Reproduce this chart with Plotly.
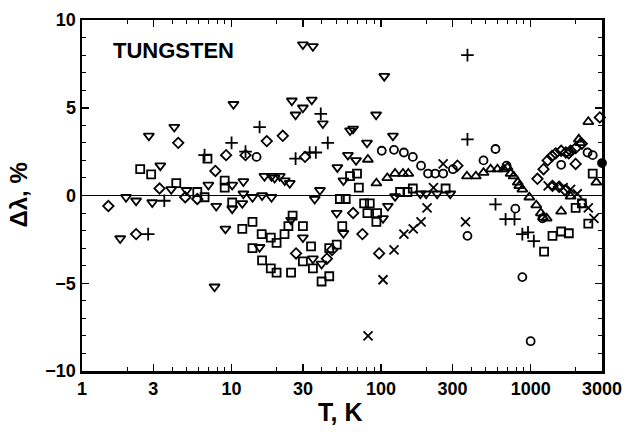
import math
import plotly.graph_objects as go

# ---- data (T in K, deviation in %) ----
sq_T = [2.45, 2.9, 4.27, 5.9, 6.6, 6.9, 9.0, 9.0, 10.1, 11.8, 13.8, 13.8, 15.9, 16, 18.3, 18.3, 20, 20,
        22.6, 24, 25.6, 25, 30, 30, 34, 35, 40, 45, 45, 50.5, 55, 53, 58, 62, 69, 71, 77, 84, 81, 94, 93,
        134, 150, 163, 270, 1230, 1400, 1600, 1800, 2000, 2200, 2430, 2600]
sq_d = [1.5, 1.2, 0.7, 0.2, -0.1, 2.1, 0.85, 0.45, -0.4, -1.9, -1.5, -3.0, -2.2, -3.7, -2.4, -4.15, -4.4, -2.7,
        -2.2, -1.75, -1.15, -4.4, -1.75, -3.75, -2.9, -4.15, -4.9, -4.6, -3.0, -2.8, -1.75, -0.2, -0.2, 1.1, 1.25, 0.45,
        -0.45, -0.45, -1.0, -1.0, -1.5, 0.2, 0.2, 0.4, 0.4, -3.2, -2.3, -2.05, -2.15, -0.7, -0.45, -1.6, 1.25]

dn_T = [1.97, 2.3, 1.8, 2.95, 2.8, 3.34, 3.95, 4.14, 5.0, 7.0, 7.7, 7.9, 9.1, 10.1, 10.1, 10.3, 11.8, 12, 12,
        13.8, 15.4, 16, 16.6, 18.5, 19.4, 18.5, 21, 22.7, 24.5, 25, 25.3, 26.8, 30, 30, 30, 34.4, 35, 35, 36,
        39, 40, 40.8, 50.5, 51, 56, 56, 60, 62, 65, 68, 80.5, 92.6, 103, 105, 111, 120, 124, 183, 200, 237, 290]
dn_d = [-0.1, -0.3, -2.45, -0.4, 3.4, 1.7, 0.35, 3.9, 0.3, 0.6, -5.2, -0.6, -1.9, 0.6, -0.75, 5.2, -0.45, 0.8, 0.1,
        -0.1, -2.95, 0.0, 1.1, -0.1, 1.0, 1.1, 1.1, 0.85, 0.7, -1.4, 5.4, 4.6, 5.0, 8.6, -2.4, 5.45, 8.5, -3.6, -0.2,
        0.3, -3.9, 4.1, -1.0, 1.6, 0.85, -2.15, 2.3, 3.7, 3.8, 2.0, 3.0, 4.6, -1.3, 6.8, -0.6, 3.4, -0.05, 0.1, 0.1, 0.1, 0.1]

ci_T = [14.7, 101, 122, 142, 163, 185, 206, 230, 260, 302, 378, 484, 582, 690, 790, 880, 1000, 1200,
        1600, 2200, 2400, 2600]
ci_d = [2.2, 2.55, 2.6, 2.45, 2.2, 1.7, 1.25, 1.25, 1.25, 1.5, -2.3, 2.0, 2.65, 1.7, -0.75, -4.65, -8.3, -1.3,
        1.75, -0.45, 2.45, 2.3]

# filled circle sitting on the right axis
fc_T = [3000]
fc_d = [1.85]

up_T = [81.6, 93, 110, 124, 140, 152, 375, 430, 484, 540, 600, 660, 700, 735, 770, 820, 840, 880, 980,
        1090, 1170, 1210, 1280, 1600, 1850, 2100, 2150, 2430, 2750]
up_d = [2.05, 0.7, 1.0, 1.25, 1.25, 1.25, 1.1, 1.1, 1.3, 1.5, 1.5, 1.5, 1.6, 1.25, 1.1, 0.75, 0.55, 0.35, -0.1,
        -0.55, -1.0, -1.25, -1.3, -0.9, -0.05, 3.2, 3.0, 4.2, 0.75]

di_T = [1.5, 2.3, 3.3, 4.4, 4.9, 5.9, 7.8, 9.2, 12.4, 17.2, 22, 27, 31, 43.4, 47, 65, 75, 97, 324,
        1110, 1220, 1300, 1390, 1470, 1600, 1720, 1800, 1850, 2000, 2000, 2200, 2900, 1400, 1550, 1700]
di_d = [-0.6, -2.2, 0.4, 3.0, -0.1, -0.2, 1.4, 2.3, 2.3, 3.1, 3.4, -3.3, 2.2, -3.6, -3.1, -1.0, -2.2, -3.3, 1.7,
        0.95, 1.5, 2.0, 2.25, 2.4, 2.55, 2.45, 2.4, 2.55, 2.7, 1.8, 2.95, 4.45, 0.55, 0.5, 0.3]

pl_T = [2.77, 3.55, 6.6, 10, 12.4, 15.4, 26.8, 33.3, 36.6, 39.5, 44, 378, 378, 582, 680, 780, 880, 960, 1050]
pl_d = [-2.2, -0.3, 2.3, 3.0, 2.5, 3.9, 2.1, 2.45, 2.45, 4.65, 3.0, 8.0, 3.2, -0.5, -1.35, -1.35, -2.2, -2.1, -2.6]

xx_T = [81.8, 103, 122, 142, 164, 185, 203, 224, 260, 367, 1310, 1470, 1650, 1850, 2050, 2430, 2650]
xx_d = [-8.0, -4.8, -3.1, -2.2, -1.9, -1.5, -0.7, 0.45, 1.8, -1.5, 0.55, 0.55, 0.45, 0.35, 0.1, -0.7, -1.3]

x_tickvals = [1, 3, 10, 30, 100, 300, 1000, 3000]
x_ticktext = ["1", "3", "10", "30", "100", "300", "1000", "3000"]
x_minor = [2, 4, 5, 6, 7, 8, 9, 20, 40, 50, 60, 70, 80, 90, 200, 400, 500, 600, 700, 800, 900, 2000]
y_tickvals = [-10, -5, 0, 5, 10]
y_ticktext = ["\u221210", "\u22125", "0", "5", "10"]

FONT = "Liberation Sans"

fig = go.Figure()
series = [
    (sq_T, sq_d, "square-open", 8),
    (dn_T, dn_d, "triangle-down-open", 9),
    (ci_T, ci_d, "circle-open", 8),
    (fc_T, fc_d, "circle", 8),
    (up_T, up_d, "triangle-up-open", 9),
    (di_T, di_d, "diamond-open", 8),
    (pl_T, pl_d, "cross-thin-open", 9),
    (xx_T, xx_d, "x-thin-open", 9),
]
for T, d, sym, sz in series:
    fig.add_trace(go.Scatter(
        x=T, y=d, mode="markers", showlegend=False, cliponaxis=False,
        hoverinfo="skip",
        marker=dict(symbol=sym, size=sz, color="black",
                    line=dict(color="black", width=1.8)),
    ))

axis_common = dict(
    showgrid=False, showline=True, linecolor="black", linewidth=2.5,
    mirror="ticks", ticks="inside", tickcolor="black", tickwidth=1.5, ticklen=7,
    automargin=False,
    tickfont=dict(family=FONT, size=18, color="black", weight="bold"),
)

fig.update_layout(
    width=629, height=432,
    margin=dict(l=82, r=27, t=20, b=61, autoexpand=False),
    paper_bgcolor="white", plot_bgcolor="white",
    xaxis=dict(type="log", range=[0, math.log10(3000)],
               tickmode="array", tickvals=x_tickvals, ticktext=x_ticktext,
               minor=dict(tickmode="array", tickvals=x_minor, ticks="inside",
                          ticklen=4, tickcolor="black", tickwidth=1),
               zeroline=False, **axis_common),
    yaxis=dict(range=[-10, 10], tickmode="array", tickvals=y_tickvals,
               ticktext=y_ticktext,
               minor=dict(dtick=1, ticks="inside", ticklen=4,
                          tickcolor="black", tickwidth=1),
               zeroline=True, zerolinecolor="black", zerolinewidth=1.5,
               **axis_common),
    annotations=[
        dict(text="<b>TUNGSTEN</b>", xref="paper", yref="paper",
             x=0.056, y=0.914, xanchor="left", yanchor="middle", showarrow=False,
             font=dict(family=FONT, size=22, color="black")),
        dict(text="<b>T, K</b>", xref="paper", yref="paper",
             x=0.497, y=-0.117, xanchor="center", yanchor="middle", showarrow=False,
             font=dict(family=FONT, size=25, color="black")),
        dict(text="<b>\u0394\u03bb, %</b>", xref="paper", yref="paper",
             x=-0.123, y=0.5, xanchor="center", yanchor="middle", showarrow=False,
             textangle=-90, font=dict(family=FONT, size=24, color="black")),
    ],
)

fig.write_html(
    "out.html",
    config={"displayModeBar": False, "staticPlot": True},
    post_script="document.body.style.margin='0';document.body.style.overflow='hidden';",
)
